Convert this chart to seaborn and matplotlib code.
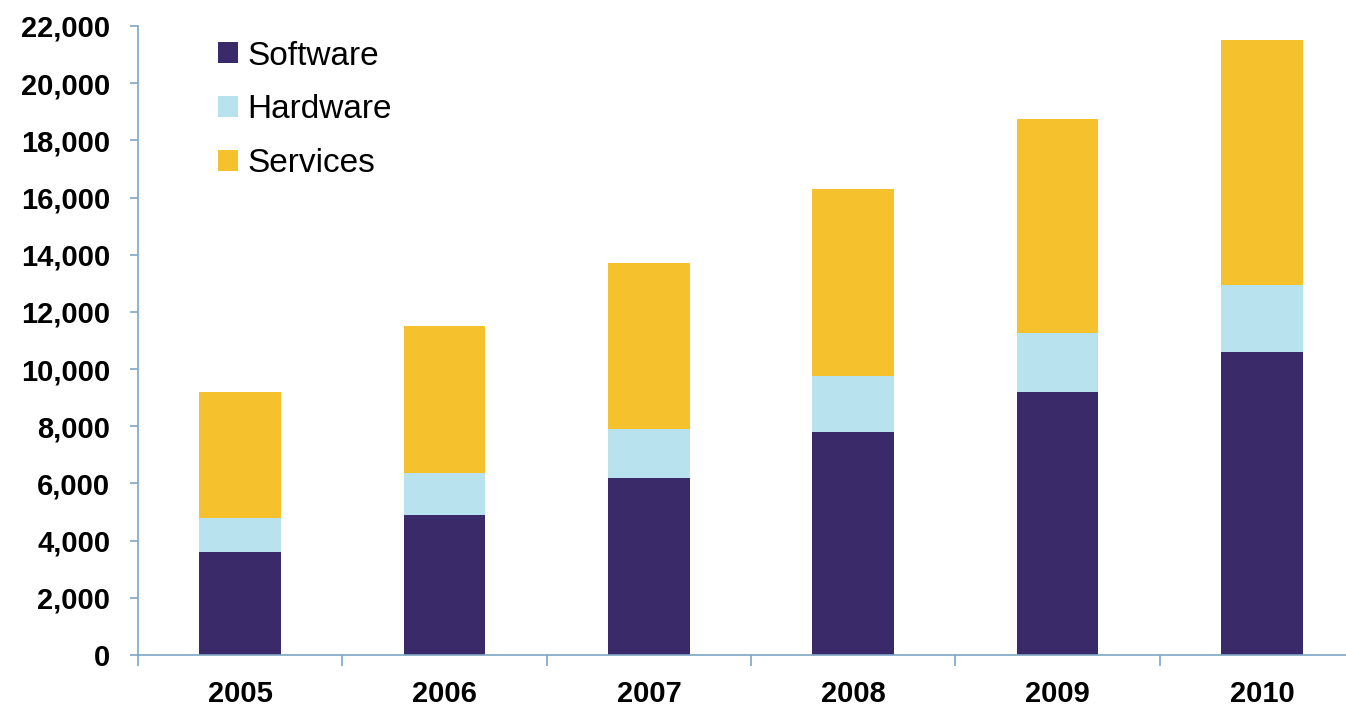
import numpy as np
import matplotlib
matplotlib.use('Agg')
import matplotlib.pyplot as plt
import pandas as pd
import seaborn as sns
from matplotlib.ticker import FuncFormatter, FixedLocator
from matplotlib.patches import Patch

# values
years = ['2005', '2006', '2007', '2008', '2009', '2010']
software = [3600, 4900, 6200, 7800, 9200, 10600]
hardware = [1200, 1450, 1700, 1950, 2050, 2350]
services = [4400, 5150, 5800, 6550, 7500, 8550]

colors = {'Software': '#3a2a69', 'Hardware': '#b8e2ee', 'Services': '#f5c22e'}
axis_col = '#7fa6c4'

df = pd.DataFrame({'year': years, 'Software': software,
                   'Hardware': hardware, 'Services': services})
# cumulative tops for stacking
df['top_sw'] = df['Software']
df['top_hw'] = df['Software'] + df['Hardware']
df['top_sv'] = df['top_hw'] + df['Services']

sns.set_style('white')
plt.rcParams['font.family'] = ['Liberation Sans', 'DejaVu Sans']

fig = plt.figure(figsize=(13.46, 7.14), dpi=100)
ax = fig.add_axes([0.1025, 0.0826, 0.911, 0.881])

# draw tallest first, then overlay the lower parts
for col, name in [('top_sv', 'Services'), ('top_hw', 'Hardware'), ('top_sw', 'Software')]:
    sns.barplot(data=df, x='year', y=col, color=colors[name], width=0.40,
                saturation=1, linewidth=0, edgecolor='none', ax=ax)

ax.set_xlim(-0.5, 5.5)
ax.set_ylim(0, 22000)
ax.set_yticks(np.arange(0, 22001, 2000))
ax.yaxis.set_major_formatter(FuncFormatter(lambda v, p: f'{int(v):,}'))
ax.set_xlabel('')
ax.set_ylabel('')

for s in ['top', 'right']:
    ax.spines[s].set_visible(False)
for s in ['left', 'bottom']:
    ax.spines[s].set_color(axis_col)
    ax.spines[s].set_linewidth(1.2)

ax.tick_params(axis='y', direction='out', length=6, width=1.2, color=axis_col,
               pad=14, labelsize=21, labelcolor='black', left=True)
ax.tick_params(axis='x', which='major', length=0, pad=18, labelsize=21,
               labelcolor='black')
ax.xaxis.set_minor_locator(FixedLocator(np.arange(-0.5, 5.0, 1.0)))
ax.tick_params(axis='x', which='minor', direction='out', length=8, width=1.2,
               color=axis_col, bottom=True)
for lab in ax.get_xticklabels() + ax.get_yticklabels():
    lab.set_fontweight('bold')

handles = [Patch(facecolor=colors[k], edgecolor='none', label=k)
           for k in ['Software', 'Hardware', 'Services']]
ax.legend(handles=handles, loc='upper left', bbox_to_anchor=(0.046, 1.014),
          frameon=False, fontsize=24, handlelength=0.6, handleheight=0.6,
          handletextpad=0.3, labelspacing=0.68, labelcolor='black',
          borderaxespad=0.3)

fig.savefig('out.png', dpi=100)
